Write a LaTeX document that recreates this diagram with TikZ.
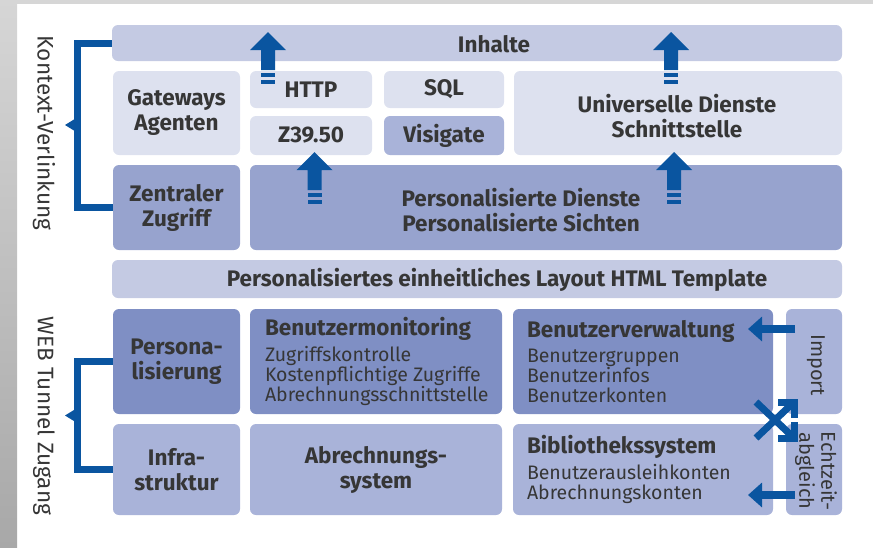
\documentclass[tikz,border=0pt]{standalone}
\usepackage{fontspec}
\setmainfont{Fira Sans}
\usetikzlibrary{arrows.meta}

\definecolor{framegray}{HTML}{D6D6D6}
\definecolor{stripgraytop}{HTML}{D6D6D6}
\definecolor{stripgraybot}{HTML}{A8A8A8}
\definecolor{paleblue}{HTML}{DDE1EF}
\definecolor{softblue}{HTML}{C4CAE3}
\definecolor{midblue}{HTML}{A9B3D9}
\definecolor{deepblue}{HTML}{97A3CE}
\definecolor{darkblue}{HTML}{7F8FC4}
\definecolor{linkblue}{HTML}{0A55A0}
\definecolor{inkgray}{HTML}{363636}

\newcommand{\boxtitle}{\fontsize{22.5}{25}\selectfont\bfseries}
\newcommand{\boxbody}{\fontsize{19.5}{20}\selectfont}
\newcommand{\sidefont}{\fontsize{22.5}{24}\selectfont}

% thick blue up arrow with two bars under it, tip at (#1,#2)
\newcommand{\blueup}[2]{%
  \fill[linkblue] (#1,#2) -- ++(18,18) -- ++(-11,0) -- ++(0,20) -- ++(-14,0)
    -- ++(0,-20) -- ++(-11,0) -- cycle;
  \fill[linkblue] (#1-7,#2+41) rectangle ++(14,4);
  \fill[linkblue] (#1-7,#2+48) rectangle ++(14,4);
}

\tikzset{
  cell/.style={rounded corners=6, inner sep=0, text=inkgray, align=center, font=\boxtitle},
  celltext/.style={inner sep=0, text=inkgray, align=center, font=\boxtitle},
  listtext/.style={inner sep=0, text=inkgray, align=left, font=\boxbody, anchor=west},
  sidetext/.style={inner sep=0, text=inkgray, align=center, rotate=-90},
  bracket/.style={linkblue, line width=7, line join=miter},
  pushline/.style={linkblue, line width=8, -{Triangle[length=14pt,width=24pt]}},
  crossline/.style={linkblue, line width=7, line join=miter}
}

\begin{document}
\begin{tikzpicture}[x=1pt, y=-1pt]
        %background
        \useasboundingbox (0,0) rectangle (873,547);
        \fill[framegray] (0,0) rectangle (873,4);
        \shade[top color=stripgraytop, bottom color=stripgraybot] (0,0) rectangle (17,547);

        %upper part
        \node[cell, fill=softblue, minimum width=730, minimum height=36] (inhalte) at (477,43) {};
        \node[celltext] (inhaltetext) at (494,44) {Inhalte};
        \node[cell, fill=paleblue, minimum width=127, minimum height=84] (gateways) at (176.5,113) {Gateways\\Agenten};
        \node[cell, fill=paleblue, minimum width=122, minimum height=37] (http) at (311,89.5) {HTTP};
        \node[cell, fill=paleblue, minimum width=122, minimum height=39] (z3950) at (311,135.5) {Z39.50};
        \node[cell, fill=paleblue, minimum width=120, minimum height=37] (sql) at (444,89.5) {SQL};
        \node[cell, fill=midblue, minimum width=120, minimum height=39] (visigate) at (444,135.5) {Visigate};
        \node[cell, fill=paleblue, minimum width=328, minimum height=84] (universell) at (678,113) {};
        \node[celltext] (universelltext) at (677,116) {Universelle Dienste\\Schnittstelle};
        \node[cell, fill=deepblue, minimum width=127, minimum height=85] (zentral) at (176.5,207.5) {Zentraler\\Zugriff};
        \node[cell, fill=deepblue, minimum width=592, minimum height=85] (dienste) at (546,207.5) {};
        \node[celltext] (dienstetext) at (521,210) {Personalisierte Dienste\\Personalisierte Sichten};

        %layout bar
        \node[cell, fill=softblue, minimum width=730, minimum height=38] (layout) at (477,279) {};
        \node[celltext] (layouttext) at (497,280) {Personalisiertes einheitliches Layout HTML Template};

        %lower part
        \node[cell, fill=darkblue, minimum width=127, minimum height=105] (personal) at (176.5,361.5) {Persona-\\lisierung};
        \node[cell, fill=darkblue, minimum width=252, minimum height=105] (monitor) at (376,361.5) {};
        \node[listtext] (monitortext) at ([xshift=15pt]monitor.west) {{\boxtitle Benutzermonitoring}\\[5pt]Zugriffskontrolle\\Kostenpflichtige Zugriffe\\Abrechnungsschnittstelle};
        \node[cell, fill=darkblue, minimum width=260, minimum height=105] (verwaltung) at (643,361.5) {};
        \node[listtext] (verwaltungtext) at ([xshift=14pt]verwaltung.west) {{\boxtitle Benutzerverwaltung}\\[5pt]Benutzergruppen\\Benutzerinfos\\Benutzerkonten};
        \node[cell, fill=midblue, minimum width=56, minimum height=105] (import) at (814,361.5) {};
        \node[sidetext, font=\fontsize{20}{22}\selectfont] (importtext) at (816,365) {Import};
        \node[cell, fill=midblue, minimum width=127, minimum height=91] (infra) at (176.5,469.5) {Infra-\\struktur};
        \node[cell, fill=midblue, minimum width=252, minimum height=91] (abrechnung) at (376,469.5) {Abrechnungs-\\system};
        \node[cell, fill=midblue, minimum width=260, minimum height=91] (biblio) at (643,469.5) {};
        \node[listtext] (bibliotext) at ([xshift=14pt]biblio.west) {{\boxtitle Bibliothekssystem}\\[5pt]Benutzerausleihkonten\\Abrechnungskonten};
        \node[cell, fill=midblue, minimum width=56, minimum height=91] (echtzeit) at (814,469.5) {};
        \node[sidetext, font=\fontsize{20}{22}\selectfont] (echtzeittext) at (816,471) {Echtzeit-\\abgleich};

        %brackets on the left
        \draw[bracket] (inhalte.west) -- ++(-34,0) |- (zentral.west);
        \coordinate (kvmid) at (78,125);
        \fill[linkblue] (kvmid) ++(0,-8) -- ++(-13,8) -- ++(13,8) -- cycle;
        \node[sidetext, font=\sidefont] (kvtext) at (44,133) {Kontext-Verlinkung};
        \draw[bracket] (personal.west) -- ++(-35,0) |- (infra.west);
        \coordinate (wtmid) at (78,415.5);
        \fill[linkblue] (wtmid) ++(0,-8) -- ++(-13,8) -- ++(13,8) -- cycle;
        \node[sidetext, font=\sidefont] (wttext) at (44,416) {WEB Tunnel Zugang};

        %up arrows
        \blueup{268}{32}
        \blueup{314.5}{152}
        \blueup{671}{32}
        \blueup{674}{152}

        %import and sync arrows
        \coordinate (impfrom) at (795,329);
        \coordinate (impto) at (748,329);
        \draw[pushline] (impfrom) -- (impto);
        \coordinate (syncfrom) at (795,495);
        \coordinate (syncto) at (748,495);
        \draw[pushline] (syncfrom) -- (syncto);
        \coordinate (crossa) at (756,402);
        \coordinate (crossb) at (794,438);
        \coordinate (crossc) at (756,438);
        \coordinate (crossd) at (794,402);
        \draw[crossline] (crossa) -- (crossb);
        \draw[crossline] (crossc) -- (crossd);
        \draw[crossline] (crossd) ++(-16,0) -- (crossd) -- ++(0,16);
        \draw[crossline] (crossb) ++(-16,0) -- (crossb) -- ++(0,-16);
\end{tikzpicture}
\end{document}
